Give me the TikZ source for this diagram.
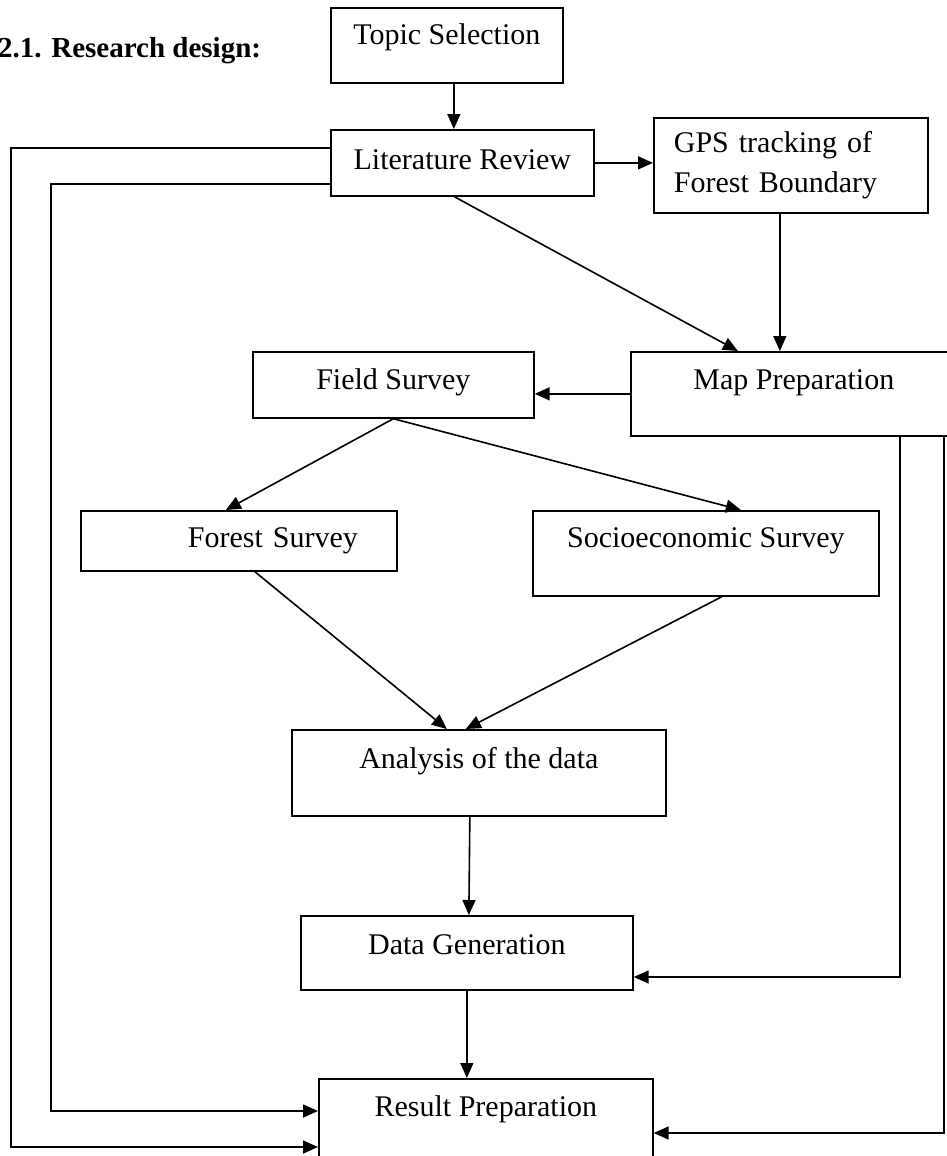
\documentclass[tikz,border=0pt]{standalone}
\usepackage{fontspec}
\setmainfont{Liberation Serif}
\usetikzlibrary{arrows.meta}

\begin{document}
\begin{tikzpicture}[x=1pt, y=-1pt,
        box/.style={draw, line width=1.7pt, inner xsep=0pt, inner ysep=0pt, anchor=north west, font=\fontsize{30}{40}\selectfont},
        arr/.style={line width=1.6pt, -{Triangle[length=15pt, width=13pt]}}]
        \useasboundingbox (0,0) rectangle (946,1156);
        \node[anchor=base west, inner sep=0pt, font=\fontsize{29}{35}\selectfont\bfseries] (title) at (-2,57) {2.1. Research design:};
        % boxes
        \node[box, minimum width=232pt, text height=37pt, text depth=38pt] (topic) at (330,7) {Topic Selection};
        \node[box, minimum width=263pt, text height=40pt, text depth=26pt] (lit) at (330,129) {Literature Review};
        \node[box, text width=234pt, inner xsep=20pt, align=left, minimum height=95pt] (gps) at (653,117) {GPS tracking of\\Forest Boundary};
        \node[box, minimum width=326pt, text height=38pt, text depth=46pt] (map) at (630,351) {Map Preparation};
        \node[box, minimum width=281pt, text height=38pt, text depth=28pt] (field) at (252,351) {Field Survey};
        \node[box, text width=238pt, inner xsep=39pt, align=right, text height=37pt, text depth=23pt] (forest) at (80,510) {Forest Survey};
        \node[box, minimum width=346pt, text height=37pt, text depth=48pt] (socio) at (532,510) {Socioeconomic Survey};
        \node[box, minimum width=374pt, text height=39pt, text depth=47pt] (analysis) at (291,729) {Analysis of the data};
        \node[box, minimum width=332pt, text height=39pt, text depth=35pt] (datagen) at (300,915) {Data Generation};
        \node[box, minimum width=334pt, text height=38pt, text depth=46pt] (result) at (318,1078) {Result Preparation};
        % bends of the long lines
        \coordinate (lout) at (11,1147);
        \coordinate (lin) at (51,1111);
        \coordinate (rin) at (900,977);
        \coordinate (rout) at (944,1133);
        % top part
        \draw[arr] ([xshift=7pt]topic.south) -- ([xshift=7pt]topic.south |- lit.north);
        \draw[arr] (lit.east) -- (lit.east -| gps.west);
        \draw[arr] ([xshift=-8pt]lit.south) -- ([xshift=-56pt]map.north);
        \draw[arr] ([xshift=-11pt]gps.south) -- ([xshift=-11pt]gps.south |- map.north);
        \draw[arr] (map.west) -- (map.west -| field.east);
        % surveys
        \draw[arr] (field.south) -- ([xshift=-13pt]forest.north);
        \draw[arr] (field.south) -- ([xshift=35pt]socio.north);
        \draw[arr] ([xshift=16pt]forest.south) -- ([xshift=-32pt]analysis.north);
        \draw[arr] ([xshift=16pt]socio.south) -- ([xshift=-13pt]analysis.north);
        \draw[arr] ([xshift=-9pt]analysis.south) -- ([xshift=2pt]datagen.north);
        \draw[arr] (datagen.south) -- (datagen.south |- result.north);
        % side lines
        \draw[arr] ([yshift=15pt]lit.west) -| (lout) -- (lout -| result.west);
        \draw[arr] ([yshift=-21pt]lit.west) -| (lin) -- (lin -| result.west);
        \draw[arr] (map.south -| rin) -- (rin) -- (rin -| datagen.east);
        \draw[arr] (map.south -| rout) -- (rout) -- (rout -| result.east);
\end{tikzpicture}
\end{document}
